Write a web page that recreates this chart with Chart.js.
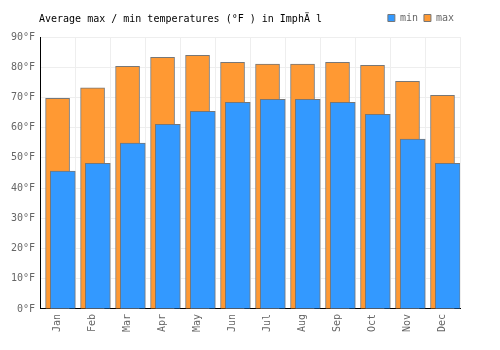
<!DOCTYPE html>
<html>
<head>
<meta charset="utf-8">
<script src="https://cdn.jsdelivr.net/npm/chart.js@4/dist/chart.umd.min.js"></script>
<style>
    html, body { margin: 0; padding: 0; background: #fff; }
    #wrap { width: 500px; height: 350px; }
</style>
</head>
<body>
<div id="wrap"><canvas id="myChart" width="500" height="350"></canvas></div>
<script>
const months = ['Jan', 'Feb', 'Mar', 'Apr', 'May', 'Jun', 'Jul', 'Aug', 'Sep', 'Oct', 'Nov', 'Dec'];
const minTemps = [45.6, 48.2, 54.9, 61.1, 65.4, 68.4, 69.4, 69.4, 68.4, 64.4, 56.2, 48.2];
const maxTemps = [69.7, 73.2, 80.3, 83.3, 83.9, 81.6, 81.0, 81.0, 81.6, 80.6, 75.3, 70.7];
const yTicks = [0, 10, 20, 30, 40, 50, 60, 70, 80, 90];

const titleText = 'Average max / min temperatures (°F ) in ImphÄ l';
const monoFont = '"DejaVu Sans Mono", "Liberation Mono", monospace';

// title sits on the same row as the legend, so draw it ourselves
const titlePlugin = {
    id: 'leftTitle',
    beforeInit(chart) {
        // leave some room between legend and plot
        const origFit = chart.legend.fit;
        chart.legend.fit = function() {
            origFit.bind(this)();
            this.height += 4;
        };
    },
    afterDraw(chart) {
        const ctx = chart.ctx;
        ctx.save();
        ctx.font = '10px ' + monoFont;
        ctx.fillStyle = '#000';
        ctx.textBaseline = 'middle';
        ctx.textAlign = 'left';
        ctx.fillText(titleText, 39, 19);
        ctx.restore();
    }
};

function getMinData() {
    let data = [];
    for (let i = 0; i < months.length; i++) {
        data.push({ x: i, y: minTemps[i] });
    }
    return data;
}

const ctx = document.getElementById('myChart');
const myChart = new Chart(ctx, {
    type: 'bar',
    data: {
        labels: months,
        datasets: [{
            label: 'min',
            data: getMinData(),
            xAxisID: 'x2',
            backgroundColor: '#3399ff',
            borderColor: '#777777',
            borderWidth: 1,
            borderSkipped: 'bottom',
            barThickness: 25
        }, {
            label: 'max',
            data: maxTemps,
            xAxisID: 'x',
            backgroundColor: '#ff9933',
            borderColor: '#777777',
            borderWidth: 1,
            borderSkipped: 'bottom',
            barThickness: 24
        }]
    },
    options: {
        responsive: false,
        animation: false,
        grouped: false,
        layout: {
            padding: { top: 7, left: 6, right: 40, bottom: 13 }
        },
        plugins: {
            legend: {
                position: 'top',
                align: 'end',
                labels: {
                    boxWidth: 7,
                    boxHeight: 7,
                    padding: 6,
                    color: '#666',
                    font: { family: monoFont, size: 10 }
                }
            },
            title: { display: false },
            tooltip: { enabled: false }
        },
        scales: {
            x: {
                type: 'category',
                offset: true,
                grid: {
                    offset: true,
                    color: '#eeeeee',
                    drawTicks: false
                },
                border: { color: '#000', width: 1 },
                ticks: {
                    color: '#666',
                    font: { family: monoFont, size: 10 },
                    minRotation: 90,
                    maxRotation: 90,
                    padding: 5
                }
            },
            x2: {
                type: 'linear',
                display: false,
                offset: false,
                min: -0.65,
                max: 11.35
            },
            y: {
                min: 0,
                max: 90,
                afterBuildTicks: (axis) => {
                    axis.ticks = yTicks.map(v => ({ value: v }));
                },
                grid: {
                    color: '#eeeeee',
                    drawTicks: false
                },
                border: { color: '#000', width: 1 },
                ticks: {
                    color: '#666',
                    font: { family: monoFont, size: 10 },
                    padding: 5,
                    callback: (v) => v + '°F'
                }
            }
        }
    },
    plugins: [titlePlugin]
});
</script>
</body>
</html>
